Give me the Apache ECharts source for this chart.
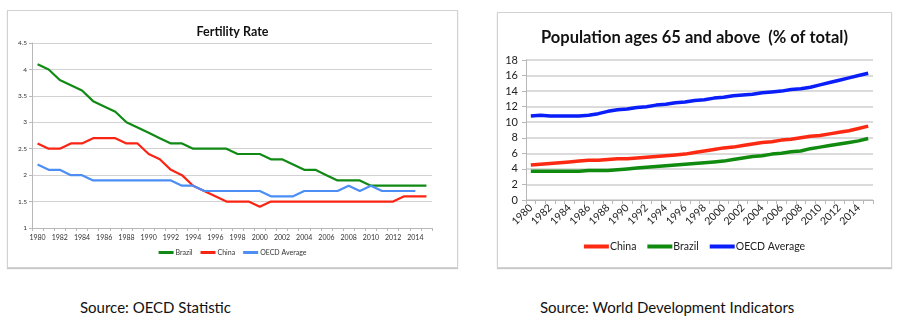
<!DOCTYPE html>
<html>
<head>
<meta charset="utf-8">
<script src="https://cdn.jsdelivr.net/npm/echarts@6/dist/echarts.min.js"></script>
<style>
  html, body { margin: 0; padding: 0; background: #ffffff; }
  body { width: 898px; height: 325px; position: relative; overflow: hidden; font-family: Lato, "Open Sans", sans-serif; }
  .panel { position: absolute; border: 1px solid #d2d2d2; box-sizing: border-box; background: #fff; }
  #fert { left: 7px; top: 10px; width: 451px; height: 258px; box-shadow: 0 1px 1px #c8c8c8; }
  #pop { left: 497px; top: 12px; width: 395px; height: 256px; box-shadow: 0 1px 1px #c8c8c8; }
  .src { position: absolute; top: 298px; font-size: 15px; color: #111; font-family: Lato, "Open Sans", sans-serif; white-space: nowrap; }
</style>
</head>
<body>
<div id="fert" class="panel"></div>
<div id="pop" class="panel"></div>
<div class="src" style="left:80px;">Source: OECD Statistic</div>
<div class="src" style="left:540px;">Source: World Development Indicators</div>
<script>
// Years shared by both charts
const years = [];
for (let y = 1980; y <= 2015; y++) years.push(String(y));

// Fertility rate (births per woman)
const fertBrazil = [4.1, 4.0, 3.8, 3.7, 3.6, 3.4, 3.3, 3.2, 3.0, 2.9, 2.8, 2.7, 2.6, 2.6, 2.5, 2.5, 2.5, 2.5, 2.4, 2.4, 2.4, 2.3, 2.3, 2.2, 2.1, 2.1, 2.0, 1.9, 1.9, 1.9, 1.8, 1.8, 1.8, 1.8, 1.8, 1.8];
const fertChina  = [2.6, 2.5, 2.5, 2.6, 2.6, 2.7, 2.7, 2.7, 2.6, 2.6, 2.4, 2.3, 2.1, 2.0, 1.8, 1.7, 1.6, 1.5, 1.5, 1.5, 1.4, 1.5, 1.5, 1.5, 1.5, 1.5, 1.5, 1.5, 1.5, 1.5, 1.5, 1.5, 1.5, 1.6, 1.6, 1.6];
const fertOECD   = [2.2, 2.1, 2.1, 2.0, 2.0, 1.9, 1.9, 1.9, 1.9, 1.9, 1.9, 1.9, 1.9, 1.8, 1.8, 1.7, 1.7, 1.7, 1.7, 1.7, 1.7, 1.6, 1.6, 1.6, 1.7, 1.7, 1.7, 1.7, 1.8, 1.7, 1.8, 1.7, 1.7, 1.7, 1.7, null];

// Population ages 65 and above (% of total)
const popChina  = [4.5, 4.6, 4.7, 4.8, 4.9, 5.0, 5.1, 5.1, 5.2, 5.3, 5.3, 5.4, 5.5, 5.6, 5.7, 5.8, 5.9, 6.1, 6.3, 6.5, 6.7, 6.8, 7.0, 7.2, 7.4, 7.5, 7.7, 7.8, 8.0, 8.2, 8.3, 8.5, 8.7, 8.9, 9.2, 9.5];
const popBrazil = [3.7, 3.7, 3.7, 3.7, 3.7, 3.7, 3.8, 3.8, 3.8, 3.9, 4.0, 4.1, 4.2, 4.3, 4.4, 4.5, 4.6, 4.7, 4.8, 4.9, 5.0, 5.2, 5.4, 5.6, 5.7, 5.9, 6.0, 6.2, 6.3, 6.6, 6.8, 7.0, 7.2, 7.4, 7.6, 7.9];
const popOECD   = [10.8, 10.9, 10.8, 10.8, 10.8, 10.8, 10.9, 11.1, 11.4, 11.6, 11.7, 11.9, 12.0, 12.2, 12.3, 12.5, 12.6, 12.8, 12.9, 13.1, 13.2, 13.4, 13.5, 13.6, 13.8, 13.9, 14.0, 14.2, 14.3, 14.5, 14.8, 15.1, 15.4, 15.7, 16.0, 16.3];

const fertTicks = [1, 1.5, 2, 2.5, 3, 3.5, 4, 4.5];
const popTicks = [0, 2, 4, 6, 8, 10, 12, 14, 16, 18];

const FONT = 'Lato, "Open Sans", sans-serif';

// ---- Fertility Rate ----
const fert = echarts.init(document.getElementById('fert'), null, { renderer: 'canvas' });
fert.setOption({
  animation: false,
  title: {
    text: 'Fertility Rate', left: 'center', top: 9,
    textStyle: { fontFamily: FONT, fontSize: 12.5, fontWeight: 'bold', color: '#111' }
  },
  legend: {
    bottom: 6, left: 'center', itemWidth: 15, itemHeight: 3, itemGap: 8,
    icon: 'rect',
    textStyle: { fontFamily: FONT, fontSize: 7, color: '#333', padding: [0, 0, 0, -3] },
    data: ['Brazil', 'China', 'OECD Average']
  },
  grid: { left: 24, right: 25, top: 32, bottom: 39 },
  xAxis: {
    type: 'category', data: years, boundaryGap: true,
    axisLine: { lineStyle: { color: '#b8b8b8', width: 1 } },
    axisTick: { show: true, interval: 0, length: 3, lineStyle: { color: '#b8b8b8' } },
    axisLabel: { interval: 1, fontFamily: FONT, fontSize: 7, color: '#333', margin: 6 }
  },
  yAxis: {
    type: 'value', min: fertTicks[0], max: fertTicks[fertTicks.length - 1], interval: 0.5,
    axisLine: { show: true, lineStyle: { color: '#b8b8b8' } },
    axisTick: { show: true, length: 3, lineStyle: { color: '#b8b8b8' } },
    axisLabel: { fontFamily: FONT, fontSize: 6.5, color: '#333', margin: 5 },
    splitLine: { lineStyle: { color: '#d2d2d2', width: 1 } }
  },
  series: [
    { name: 'Brazil', type: 'line', data: fertBrazil, symbol: 'none', color: '#108a14', lineStyle: { width: 2.2 } },
    { name: 'China', type: 'line', data: fertChina, symbol: 'none', color: '#fa2414', lineStyle: { width: 2.2 } },
    { name: 'OECD Average', type: 'line', data: fertOECD, symbol: 'none', color: '#4d8ef5', lineStyle: { width: 2.2 } }
  ]
});

// ---- Population ages 65 and above ----
const pop = echarts.init(document.getElementById('pop'), null, { renderer: 'canvas' });
pop.setOption({
  animation: false,
  title: {
    text: 'Population ages 65 and above  (% of total)', left: 'center', top: 11,
    textStyle: { fontFamily: FONT, fontSize: 16.5, fontWeight: 'bold', color: '#111' }
  },
  legend: {
    bottom: 10, left: 'center', itemWidth: 25, itemHeight: 4, itemGap: 11,
    icon: 'rect',
    textStyle: { fontFamily: FONT, fontSize: 10.5, color: '#222', padding: [0, 0, 0, -4] },
    data: ['China', 'Brazil', 'OECD Average']
  },
  grid: { left: 28, right: 18, top: 47, bottom: 67 },
  xAxis: {
    type: 'category', data: years, boundaryGap: true,
    axisLine: { lineStyle: { color: '#b8b8b8', width: 1 } },
    axisTick: { show: true, interval: 0, length: 4, lineStyle: { color: '#b8b8b8' } },
    axisLabel: { interval: 1, rotate: 45, fontFamily: FONT, fontSize: 10.5, color: '#222', margin: 6 }
  },
  yAxis: {
    type: 'value', min: popTicks[0], max: popTicks[popTicks.length - 1], interval: 2,
    axisLine: { show: true, lineStyle: { color: '#b8b8b8' } },
    axisTick: { show: true, length: 4, lineStyle: { color: '#b8b8b8' } },
    axisLabel: { fontFamily: FONT, fontSize: 11, color: '#222', margin: 8 },
    splitLine: { lineStyle: { color: '#cfcfcf', width: 1.5 } }
  },
  series: [
    { name: 'China', type: 'line', data: popChina, symbol: 'none', color: '#fc2a12', lineStyle: { width: 3.5 } },
    { name: 'Brazil', type: 'line', data: popBrazil, symbol: 'none', color: '#118a10', lineStyle: { width: 3.5 } },
    { name: 'OECD Average', type: 'line', data: popOECD, symbol: 'none', color: '#0a1efa', lineStyle: { width: 3.5 } }
  ]
});
</script>
</body>
</html>
